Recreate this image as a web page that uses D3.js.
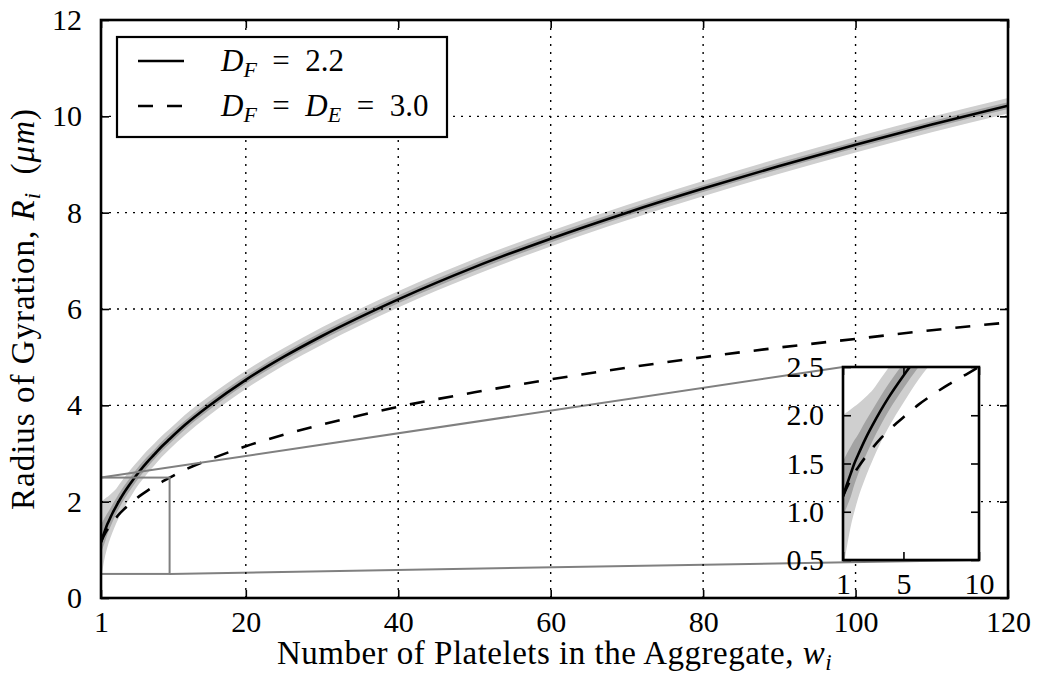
<!DOCTYPE html>
<html>
<head>
<meta charset="utf-8">
<script src="https://cdnjs.cloudflare.com/ajax/libs/d3/7.8.5/d3.min.js"></script>
<style>
  body { margin: 0; background: #fff; }
  svg { display: block; }
  text { font-family: "Liberation Serif", "Times New Roman", serif; fill: #000; }
</style>
</head>
<body>
<svg id="chart" width="1040" height="679"></svg>
<script>
// Aggregate size (number of platelets)
const sizes = [1, 1.25, 1.5, 1.75, 2, 2.5, 3, 3.5, 4, 5, 6, 7, 8, 9, 10, 12, 15, 20, 25, 30, 40, 50, 60, 70, 80, 90, 100, 110, 120];
// Radius of gyration, fractal aggregates (D_F = 2.2)
const radiusFractal = [1.16, 1.28, 1.39, 1.50, 1.59, 1.76, 1.91, 2.05, 2.18, 2.41, 2.62, 2.81, 2.98, 3.15, 3.30, 3.59, 3.97, 4.53, 5.01, 5.44, 6.20, 6.87, 7.46, 8.00, 8.50, 8.97, 9.41, 9.83, 10.22];
// Radius of gyration, compact aggregates (D_F = D_E = 3.0)
const radiusCompact = [1.16, 1.25, 1.33, 1.40, 1.46, 1.57, 1.67, 1.76, 1.84, 1.98, 2.11, 2.22, 2.32, 2.41, 2.50, 2.66, 2.86, 3.15, 3.39, 3.60, 3.97, 4.27, 4.54, 4.78, 5.00, 5.20, 5.38, 5.56, 5.72];
// Outer (light) uncertainty band of the fractal curve
const outerBandLow  = [0.40, 0.63, 0.84, 1.00, 1.14, 1.36, 1.55, 1.72, 1.87, 2.13, 2.37, 2.57, 2.75, 2.93, 3.09, 3.38, 3.77, 4.34, 4.83, 5.26, 6.03, 6.70, 7.30, 7.84, 8.34, 8.81, 9.25, 9.67, 10.06];
const outerBandHigh = [2.00, 2.03, 2.06, 2.09, 2.12, 2.19, 2.27, 2.38, 2.49, 2.69, 2.87, 3.05, 3.21, 3.37, 3.51, 3.80, 4.17, 4.72, 5.19, 5.62, 6.37, 7.04, 7.62, 8.16, 8.66, 9.13, 9.57, 9.99, 10.38];
// Inner (dark) uncertainty band of the fractal curve
const innerBandLow  = [0.95, 1.05, 1.15, 1.28, 1.39, 1.58, 1.75, 1.90, 2.04, 2.28, 2.50, 2.70, 2.88, 3.05, 3.20, 3.50, 3.88, 4.45, 4.93, 5.36, 6.12, 6.79, 7.38, 7.93, 8.43, 8.90, 9.34, 9.76, 10.15];
const innerBandHigh = [1.52, 1.60, 1.67, 1.74, 1.80, 1.94, 2.07, 2.20, 2.32, 2.54, 2.74, 2.92, 3.08, 3.25, 3.40, 3.68, 4.06, 4.61, 5.09, 5.52, 6.28, 6.95, 7.54, 8.07, 8.57, 9.04, 9.48, 9.90, 10.29];

const xTicks = [1, 20, 40, 60, 80, 100, 120];
const yTicks = [0, 2, 4, 6, 8, 10, 12];
const insetXTicks = [1, 5, 10];
const insetYTicks = [0.5, 1.0, 1.5, 2.0, 2.5];
const xDomain = [1, 120];
const yDomain = [0, 12];
const insetXDomain = [1, 10];
const insetYDomain = [0.5, 2.5];

const legendLabels = [
  [["D", "i"], ["F", "sub"], ["\u2002=\u20022.2", ""]],
  [["D", "i"], ["F", "sub"], ["\u2002=\u2002", ""], ["D", "i"], ["E", "sub"], ["\u2002=\u20023.0", ""]]
];

const svg = d3.select("#chart");
const FS = 30;

const rows = sizes.map((w, i) => ({
  w, rf: radiusFractal[i], rc: radiusCompact[i],
  oLo: outerBandLow[i], oHi: outerBandHigh[i],
  iLo: innerBandLow[i], iHi: innerBandHigh[i]
}));

const plot = { left: 101, right: 1008, top: 20, bottom: 598 };
const x = d3.scaleLinear().domain(xDomain).range([plot.left, plot.right]);
const y = d3.scaleLinear().domain(yDomain).range([plot.bottom, plot.top]);

const ins = { left: 843, right: 979, top: 367, bottom: 560 };
const xi = d3.scaleLinear().domain(insetXDomain).range([ins.left, ins.right]);
const yi = d3.scaleLinear().domain(insetYDomain).range([ins.bottom, ins.top]);

const defs = svg.append("defs");
defs.append("clipPath").attr("id", "clipMain").append("rect")
  .attr("x", plot.left).attr("y", plot.top)
  .attr("width", plot.right - plot.left).attr("height", plot.bottom - plot.top);
defs.append("clipPath").attr("id", "clipInset").append("rect")
  .attr("x", ins.left).attr("y", ins.top)
  .attr("width", ins.right - ins.left).attr("height", ins.bottom - ins.top);

// Shaded uncertainty bands around the fractal curve
function drawSeries(g, sx, sy) {
  const areaOuter = d3.area().x(d => sx(d.w)).y0(d => sy(d.oLo)).y1(d => sy(d.oHi)).curve(d3.curveMonotoneX);
  const areaInner = d3.area().x(d => sx(d.w)).y0(d => sy(d.iLo)).y1(d => sy(d.iHi)).curve(d3.curveMonotoneX);
  g.append("path").datum(rows).attr("d", areaOuter).attr("fill", "#cfcfcf");
  g.append("path").datum(rows).attr("d", areaInner).attr("fill", "#a3a3a3");
}
// Solid fractal curve and dashed compact curve
function drawLines(g, sx, sy) {
  const lf = d3.line().x(d => sx(d.w)).y(d => sy(d.rf)).curve(d3.curveMonotoneX);
  const lc = d3.line().x(d => sx(d.w)).y(d => sy(d.rc)).curve(d3.curveMonotoneX);
  g.append("path").datum(rows).attr("d", lf).attr("fill", "none")
    .attr("stroke", "#000").attr("stroke-width", 2.6);
  g.append("path").datum(rows).attr("d", lc).attr("fill", "none")
    .attr("stroke", "#000").attr("stroke-width", 2.6).attr("stroke-dasharray", "15,14");
}

// ---- Main axes ----
const main = svg.append("g").attr("clip-path", "url(#clipMain)");
drawSeries(main, x, y);

// zoom region marker and connectors to the inset corners
const zoomG = svg.append("g").attr("fill", "none").attr("stroke", "#808080").attr("stroke-width", 2);
zoomG.append("rect")
  .attr("x", x(insetXDomain[0])).attr("y", y(insetYDomain[1]))
  .attr("width", x(insetXDomain[1]) - x(insetXDomain[0]))
  .attr("height", y(insetYDomain[0]) - y(insetYDomain[1]));
zoomG.append("line")
  .attr("x1", x(insetXDomain[0])).attr("y1", y(insetYDomain[1]))
  .attr("x2", ins.left).attr("y2", ins.top);
zoomG.append("line")
  .attr("x1", x(insetXDomain[1])).attr("y1", y(insetYDomain[0]))
  .attr("x2", ins.right).attr("y2", ins.bottom);

drawLines(main, x, y);

// dotted grid
const grid = svg.append("g").attr("stroke", "#000").attr("stroke-width", 1.4)
  .attr("stroke-dasharray", "2,6");
grid.selectAll(".gx").data(xTicks.slice(1, -1)).join("line")
  .attr("x1", d => x(d)).attr("x2", d => x(d)).attr("y1", plot.top).attr("y2", plot.bottom);
grid.selectAll(".gy").data(yTicks.slice(1, -1)).join("line")
  .attr("y1", d => y(d)).attr("y2", d => y(d)).attr("x1", plot.left).attr("x2", plot.right);

function styleAxis(g, labels) {
  g.select(".domain").remove();
  g.selectAll(".tick line").attr("stroke", "#000").attr("stroke-width", 1.6);
  g.selectAll(".tick text").attr("font-size", FS).attr("font-family", "Liberation Serif")
    .attr("fill", "#000");
  if (!labels) g.selectAll(".tick text").remove();
}

svg.append("g").attr("transform", `translate(0,${plot.bottom})`)
  .call(d3.axisBottom(x).tickValues(xTicks).tickFormat(d3.format("d"))
    .tickSizeInner(-8).tickSizeOuter(0).tickPadding(13))
  .call(g => styleAxis(g, true));
svg.append("g").attr("transform", `translate(0,${plot.top})`)
  .call(d3.axisTop(x).tickValues(xTicks).tickSizeInner(-8).tickSizeOuter(0))
  .call(g => styleAxis(g, false));
svg.append("g").attr("transform", `translate(${plot.left},0)`)
  .call(d3.axisLeft(y).tickValues(yTicks).tickFormat(d3.format("d"))
    .tickSizeInner(-8).tickSizeOuter(0).tickPadding(19))
  .call(g => styleAxis(g, true));
svg.append("g").attr("transform", `translate(${plot.right},0)`)
  .call(d3.axisRight(y).tickValues(yTicks).tickSizeInner(-8).tickSizeOuter(0))
  .call(g => styleAxis(g, false));

svg.append("rect").attr("x", plot.left).attr("y", plot.top)
  .attr("width", plot.right - plot.left).attr("height", plot.bottom - plot.top)
  .attr("fill", "none").attr("stroke", "#000").attr("stroke-width", 2.6);

// axis titles
const xt = svg.append("text").attr("x", (plot.left + plot.right) / 2).attr("y", 664)
  .attr("text-anchor", "middle").attr("font-size", 33).attr("letter-spacing", 0.5);
xt.append("tspan").text("Number of Platelets in the Aggregate, ");
xt.append("tspan").attr("font-style", "italic").text("w");
xt.append("tspan").attr("font-style", "italic").attr("font-size", 23).attr("dy", 6).text("i");

const yt = svg.append("text").attr("transform", `translate(34,${(plot.top + plot.bottom) / 2}) rotate(-90)`)
  .attr("text-anchor", "middle").attr("font-size", 33).attr("letter-spacing", 1.0);
yt.append("tspan").text("Radius of Gyration, ");
yt.append("tspan").attr("font-style", "italic").text("R");
yt.append("tspan").attr("font-style", "italic").attr("font-size", 23).attr("dy", 6).text("i");
yt.append("tspan").attr("dy", -6).text("\u2002(");
yt.append("tspan").attr("font-style", "italic").text("\u03bcm");
yt.append("tspan").text(")");

// ---- Inset ----
svg.append("rect").attr("x", ins.left).attr("y", ins.top)
  .attr("width", ins.right - ins.left).attr("height", ins.bottom - ins.top).attr("fill", "#fff");
const inset = svg.append("g").attr("clip-path", "url(#clipInset)");
drawSeries(inset, xi, yi);
drawLines(inset, xi, yi);

svg.append("g").attr("transform", `translate(0,${ins.bottom})`)
  .call(d3.axisBottom(xi).tickValues(insetXTicks).tickFormat(d3.format("d"))
    .tickSizeInner(-8).tickSizeOuter(0).tickPadding(13))
  .call(g => styleAxis(g, true));
svg.append("g").attr("transform", `translate(0,${ins.top})`)
  .call(d3.axisTop(xi).tickValues(insetXTicks).tickSizeInner(-8).tickSizeOuter(0))
  .call(g => styleAxis(g, false));
svg.append("g").attr("transform", `translate(${ins.left},0)`)
  .call(d3.axisLeft(yi).tickValues(insetYTicks).tickFormat(d3.format(".1f"))
    .tickSizeInner(-8).tickSizeOuter(0).tickPadding(19))
  .call(g => styleAxis(g, true));
svg.append("g").attr("transform", `translate(${ins.right},0)`)
  .call(d3.axisRight(yi).tickValues(insetYTicks).tickSizeInner(-8).tickSizeOuter(0))
  .call(g => styleAxis(g, false));
svg.append("rect").attr("x", ins.left).attr("y", ins.top)
  .attr("width", ins.right - ins.left).attr("height", ins.bottom - ins.top)
  .attr("fill", "none").attr("stroke", "#000").attr("stroke-width", 2.6);

// ---- Legend ----
const lg = svg.append("g");
lg.append("rect").attr("x", 117).attr("y", 37).attr("width", 330).attr("height", 100)
  .attr("fill", "#fff").attr("stroke", "#000").attr("stroke-width", 2.2);
const legendRows = [61, 106];
legendRows.forEach((ly, k) => {
  lg.append("line").attr("x1", 138).attr("x2", 184).attr("y1", ly).attr("y2", ly)
    .attr("stroke", "#000").attr("stroke-width", 2.6)
    .attr("stroke-dasharray", k === 1 ? "15,14" : null);
  const t = lg.append("text").attr("x", 221).attr("y", ly + 10).attr("font-size", 31);
  let shifted = false;
  legendLabels[k].forEach(([s, kind]) => {
    const sp = t.append("tspan").text(s);
    if (kind === "i") sp.attr("font-style", "italic");
    if (kind === "sub") {
      sp.attr("font-style", "italic").attr("font-size", 22).attr("dy", 6);
      shifted = true;
    } else if (shifted) {
      sp.attr("dy", -6);
      shifted = false;
    }
  });
});
</script>
</body>
</html>
